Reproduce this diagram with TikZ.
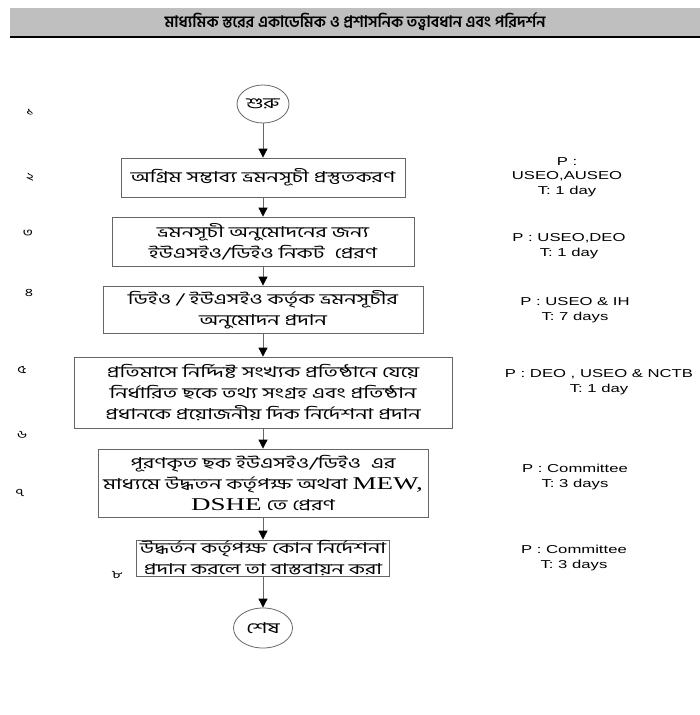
\documentclass[tikz,border=0pt]{standalone}
\usepackage{fontspec}
\setmainfont{Liberation Sans}
\newfontfamily\bangla[Script=Bengali,FakeStretch=1.45]{Hind Siliguri}
\newfontfamily\banglatitle[Script=Bengali]{Hind Siliguri}
\newfontfamily\infofont[FakeStretch=1.45]{Liberation Sans}
\newfontfamily\latinserif[FakeStretch=1.5]{Liberation Serif}
\usetikzlibrary{arrows.meta,shapes.geometric}

\begin{document}
\begin{tikzpicture}[x=1pt,y=-1pt,
    >={Triangle[length=9pt,width=9pt,color=black]},
    stepbox/.style={rectangle,draw=black!60,line width=0.8pt,align=center,
      font=\bangla\fontsize{15}{21}\selectfont,inner sep=0pt},
    terminal/.style={ellipse,draw=black!60,line width=0.8pt,inner sep=0pt,
      font=\bangla\fontsize{15}{16}\selectfont},
    info/.style={align=center,font=\infofont\fontsize{11.5}{14.5}\selectfont},
    stepnum/.style={font=\bangla\fontsize{11}{11}\selectfont},
    flow/.style={->,draw=black!60,line width=0.8pt}]

    \useasboundingbox (0,0) rectangle (700,715);

    % Title bar
    \fill[black!25] (10,8) rectangle (700,37);
    \draw[line width=1.3pt] (10,37) -- (700,37);
    \node (title) at (355,22) {\banglatitle\bfseries\fontsize{15.8}{17}\selectfont
      মাধ্যমিক স্তরের একাডেমিক ও প্রশাসনিক তত্ত্বাবধান এবং পরিদর্শন};

    % Flow steps
    \node[terminal,minimum width=52pt,minimum height=38pt] (start) at (263,104) {শুরু};
    \node[stepbox,minimum width=284pt,minimum height=39pt] (prepare) at (263,177.5)
      {অগ্রিম সম্ভাব্য ভ্রমনসূচী প্রস্তুতকরণ};
    \node[stepbox,minimum width=302pt,minimum height=49pt] (send) at (263,241.5)
      {ভ্রমনসূচী অনুমোদনের জন্য\\ইউএসইও/ডিইও নিকট \ প্রেরণ};
    \node[stepbox,minimum width=320pt,minimum height=47pt] (approve) at (263,309.5)
      {ডিইও / ইউএসইও কর্তৃক ভ্রমনসূচীর\\অনুমোদন প্রদান};
    \node[stepbox,minimum width=378pt,minimum height=71pt] (visit) at (263,392.5)
      {প্রতিমাসে নির্দ্দিষ্ট সংখ্যক প্রতিষ্ঠানে যেয়ে\\নির্ধারিত ছকে তথ্য সংগ্রহ এবং প্রতিষ্ঠান\\প্রধানকে প্রয়োজনীয় দিক নির্দেশনা প্রদান};
    \node[stepbox,minimum width=330pt,minimum height=68pt] (forward) at (263,483)
      {পূরণকৃত ছক ইউএসইও/ডিইও \ এর\\মাধ্যমে উদ্ধতন কর্তৃপক্ষ অথবা {\latinserif\fontsize{18}{21}\selectfont MEW,}\\{\latinserif\fontsize{18}{21}\selectfont DSHE} তে প্রেরণ};
    \node[stepbox,minimum width=253pt,minimum height=36pt] (implement) at (263,558)
      {উদ্ধর্তন কর্তৃপক্ষ কোন নির্দেশনা\\প্রদান করলে তা বাস্তবায়ন করা};
    \node[terminal,minimum width=59pt,minimum height=40pt] (finish) at (263,628) {শেষ};

    \draw[flow] (start) -- (prepare);
    \draw[flow] (prepare) -- (send);
    \draw[flow] (send) -- (approve);
    \draw[flow] (approve) -- (visit);
    \draw[flow] (visit) -- (forward);
    \draw[flow] (forward) -- (implement);
    \draw[flow] (implement) -- (finish);

    % Step numbers
    \node[stepnum] (num1) at (30,112) {১};
    \node[stepnum] (num2) at (30,177) {২};
    \node[stepnum] (num3) at (28,233) {৩};
    \node[stepnum] (num4) at (29,293) {৪};
    \node[stepnum] (num5) at (22,370) {৫};
    \node[stepnum] (num6) at (22,435) {৬};
    \node[stepnum] (num7) at (20,493) {৭};
    \node[stepnum] (num8) at (117,575) {৮};

    % Persons and time
    \node[info] (who1) at (567,177) {P :\\USEO,AUSEO\\T: 1 day};
    \node[info] (who2) at (569,246) {P : USEO,DEO\\T: 1 day};
    \node[info] (who3) at (575,310) {P : USEO \& IH\\T: 7 days};
    \node[info] (who4) at (599,382) {P : DEO , USEO \& NCTB\\T: 1 day};
    \node[info] (who5) at (575,477) {P : Committee\\T: 3 days};
    \node[info] (who6) at (574,558) {P : Committee\\T: 3 days};
\end{tikzpicture}
\end{document}
